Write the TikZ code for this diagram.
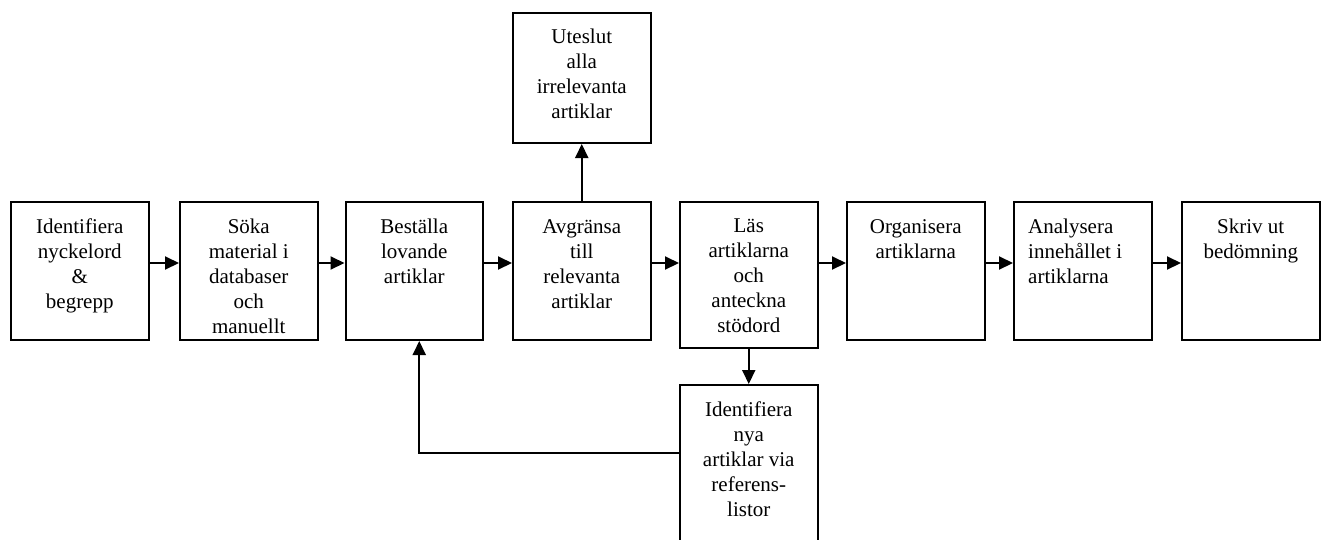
\documentclass[tikz,border=0pt]{standalone}
\usepackage{fontspec}
\setmainfont{Liberation Serif}
\usetikzlibrary{arrows.meta}
\begin{document}
\begin{tikzpicture}[x=1pt,y=-1pt, every node/.style={font=\fontsize{21}{25}\selectfont},
  stepbox/.style={draw,line width=2pt,minimum width=137.5pt,minimum height=138pt,inner sep=0pt,anchor=north west},
  txt/.style={anchor=north,align=center,inner sep=0pt,yshift=-18pt},
  arr/.style={line width=2pt,-{Triangle[length=14pt,width=13pt]}}]
\useasboundingbox (0,0) rectangle (1322,539);
% main row
\node[stepbox,label={[txt]north:Identifiera\\nyckelord\\\&\\begrepp}] (idf) at (10,201) {};
\node[stepbox,label={[txt]north:Söka\\material i\\databaser\\och\\manuellt}] (sok) at (179,201) {};
\node[stepbox,label={[txt]north:Beställa\\lovande\\artiklar}] (best) at (344.5,201) {};
\node[stepbox,label={[txt]north:Avgränsa\\till\\relevanta\\artiklar}] (avgr) at (512,201) {};
\node[stepbox,minimum height=146pt,label={[txt]north:Läs\\artiklarna\\och\\anteckna\\stödord}] (las) at (679,201) {};
\node[stepbox,label={[txt]north:Organisera\\artiklarna}] (org) at (846,201) {};
\node[stepbox,label={[txt,anchor=north west,align=left,xshift=15pt]north west:Analysera\\innehållet i\\artiklarna}] (anal) at (1013,201) {};
\node[stepbox,label={[txt]north:Skriv ut\\bedömning}] (skriv) at (1181,201) {};
% side steps
\node[stepbox,minimum height=130pt,label={[txt,yshift=1pt]north:Uteslut\\alla\\irrelevanta\\artiklar}] (utes) at (512,12) {};
\node[stepbox,minimum height=161pt,label={[txt]north:Identifiera\\nya\\artiklar via\\referens-\\listor}] (nya) at (679,384) {};
% connectors
\coordinate (row) at (0,263);
\coordinate (back) at (0,453);
\draw[arr] (idf.east |- row) -- (sok.west |- row);
\draw[arr] (sok.east |- row) -- (best.west |- row);
\draw[arr] (best.east |- row) -- (avgr.west |- row);
\draw[arr] (avgr.east |- row) -- (las.west |- row);
\draw[arr] (las.east |- row) -- (org.west |- row);
\draw[arr] (org.east |- row) -- (anal.west |- row);
\draw[arr] (anal.east |- row) -- (skriv.west |- row);
\draw[arr] (avgr.north) -- (utes.south);
\draw[arr] (las.south) -- (nya.north);
\draw[arr] (nya.west |- back) -| ([xshift=5pt]best.south);
\end{tikzpicture}
\end{document}
